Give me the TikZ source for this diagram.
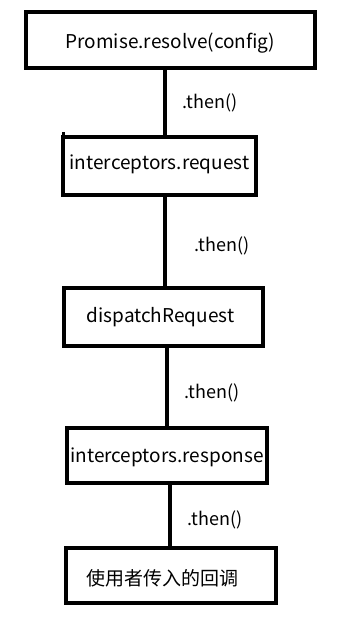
\documentclass[tikz,border=0pt]{standalone}
\usepackage{fontspec}
\newfontfamily\cjk{Noto Sans CJK SC}
\newcommand{\shtext}[2]{\raisebox{-#1}[14pt][5pt]{#2}}
\begin{document}
\begin{tikzpicture}[x=1pt,y=-1pt,
  box/.style={draw=black,line width=3.5pt,fill=white,inner sep=0pt,
    font=\cjk\fontsize{19}{22}\selectfont},
  conn/.style={draw=black,line width=4pt},
  lab/.style={font=\cjk\fontsize{18}{21}\selectfont,inner sep=0pt}]
\useasboundingbox[fill=white] (0,0) rectangle (359,623);
\node[box,minimum width=289pt,minimum height=56pt] (b1) at (170.5,40) {\shtext{4pt}{Promise.resolve(config)}};
\node[box,minimum width=193pt,minimum height=58pt] (b2) at (159.5,166) {\shtext{-1pt}{interceptors.request}};
\node[box,minimum width=199pt,minimum height=58pt] (b3) at (163.5,317) {\shtext{1pt}{dispatchRequest}\hspace*{6pt}};
\node[box,minimum width=200pt,minimum height=55pt] (b4) at (167,455.5) {\shtext{2pt}{interceptors.response}};
\node[box,minimum width=210pt,minimum height=55pt] (b5) at (171,575.5) {\shtext{5pt}{使用者传入的回调}\hspace*{18pt}};
\draw[conn] (b1.south -| 165,0) -- (b2.north -| 165,0) node[lab,midway,xshift=45pt,yshift=0pt] (t1) {.then()};
\draw[conn] (b2.south -| 165,0) -- (b3.north -| 165,0) node[lab,midway,xshift=57pt,yshift=-4pt] (t2) {.then()};
\draw[conn] (b3.south -| 167,0) -- (b4.north -| 167,0) node[lab,midway,xshift=45pt,yshift=-6pt] (t3) {.then()};
\draw[conn] (b4.south -| 170,0) -- (b5.north -| 170,0) node[lab,midway,xshift=45pt,yshift=-4pt] (t4) {.then()};
\draw[line width=3.5pt] ([xshift=2pt]b2.north west) -- ++(0,-3);
\end{tikzpicture}
\end{document}
